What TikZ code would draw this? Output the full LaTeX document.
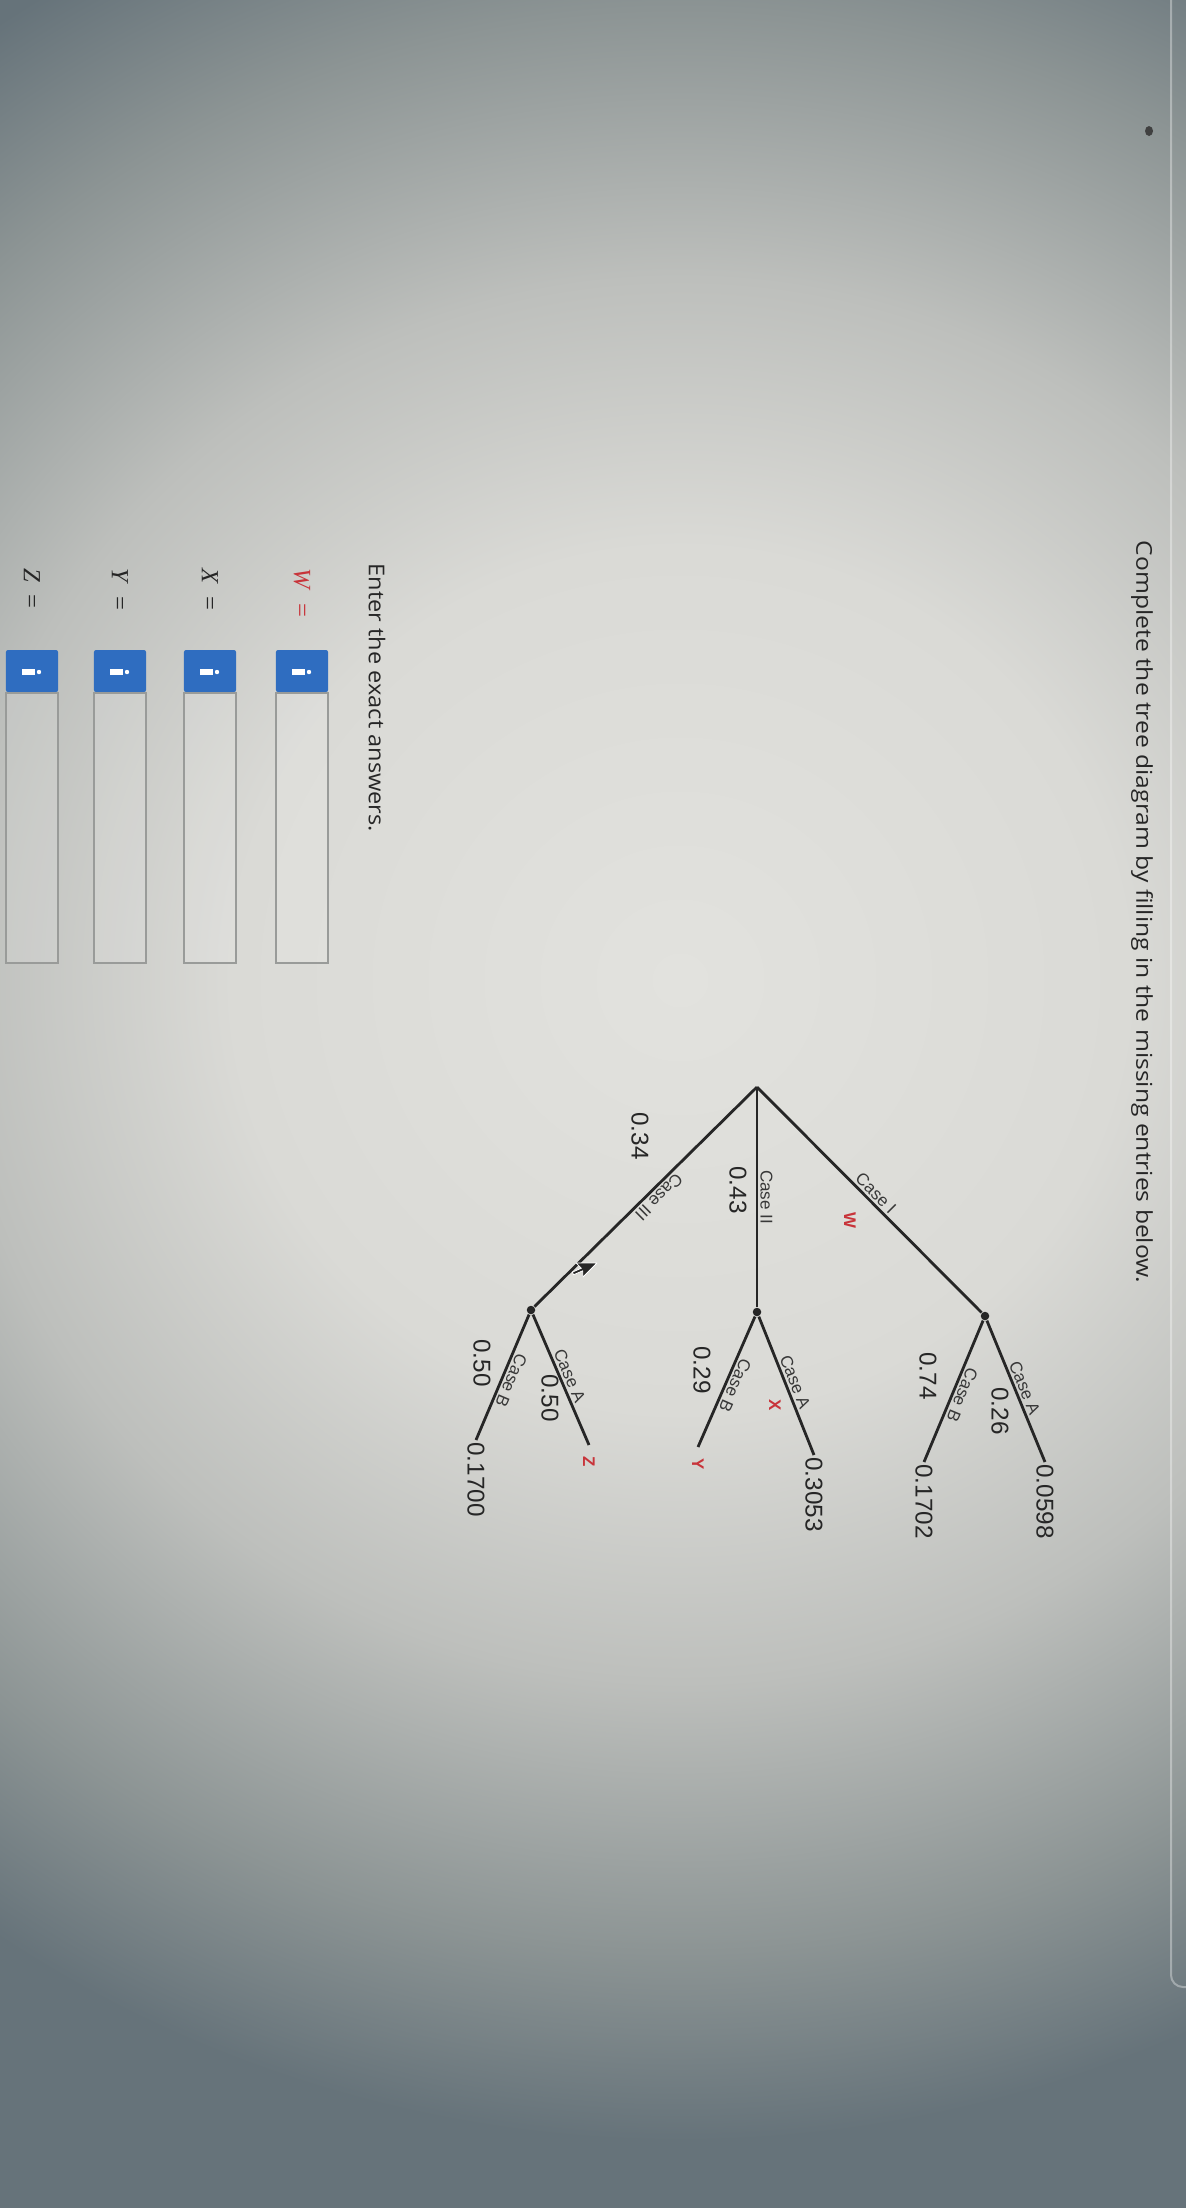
\documentclass[tikz,border=0pt]{standalone}
\usepackage{fontspec}
\setmainfont{Liberation Sans}
\newfontfamily\uifont{Open Sans}
\newfontfamily\serifmath{Liberation Serif}
\usetikzlibrary{calc}
\definecolor{ink}{HTML}{262626}
\definecolor{caseink}{HTML}{383838}
\definecolor{redmark}{HTML}{C8343A}
\definecolor{btnblue}{HTML}{2F6DC0}
\definecolor{fieldline}{HTML}{999B99}
\definecolor{bgA}{HTML}{E2E2DE}
\definecolor{bgB}{HTML}{DADAD6}
\definecolor{bgC}{HTML}{BDBFBC}
\definecolor{bgD}{HTML}{8C9494}
\definecolor{bgE}{HTML}{66737A}
\pgfdeclareradialshading{photobg}{\pgfpoint{0bp}{0bp}}{color(0bp)=(bgA); color(8bp)=(bgB); color(13bp)=(bgC); color(18bp)=(bgD); color(21.5bp)=(bgE); color(50bp)=(bgE)}

\tikzset{
  uitext/.style={font=\uifont\fontsize{6.2pt}{7pt}\selectfont, text=ink, inner sep=0pt},
  anslbl/.style={font=\serifmath\fontsize{7pt}{8pt}\selectfont, text=ink, inner sep=0pt},
  branch/.style={draw=ink, line width=0.028cm},
  knot/.style={circle, fill=ink, inner sep=0pt, minimum size=0.085cm},
  caselbl/.style={font=\fontsize{4.85pt}{5.5pt}\selectfont, text=caseink, inner sep=0.6pt},
  prob/.style={font=\fontsize{6.9pt}{8pt}\selectfont, text=ink, inner sep=0pt},
  redmarkst/.style={font=\bfseries\fontsize{4.8pt}{5.5pt}\selectfont, text=redmark, inner sep=0pt},
  leafnum/.style={font=\fontsize{6.9pt}{8pt}\selectfont, text=ink, inner sep=0.5pt, anchor=west},
  leafred/.style={redmarkst, inner sep=3pt, anchor=west},
  btnbox/.style={fill=btnblue, draw=none, rounded corners=0.02cm, minimum width=0.42cm, minimum height=0.52cm, inner sep=0pt},
  fieldbox/.style={draw=fieldline, fill=white, fill opacity=0.12, line width=0.015cm, minimum width=2.70cm, minimum height=0.52cm, inner sep=0pt},
}

\newcommand\answerrow[4]{%
  \node[anslbl, text=#4, anchor=west] (#1lbl) at (568,#2) {\textit{#3}\hspace{0.12cm}=};
  \node[btnbox] (#1btn) at (671,#2) {};
  \node[fieldbox, anchor=west] (#1field) at (692,#2) {};
  \fill[white] (669,#2-10) rectangle (675,#2+3);
  \fill[white] (672,#2+7) circle (2.2);
}

\begin{document}
\begin{tikzpicture}[x=0.01cm,y=0.01cm]
\useasboundingbox (0,0) rectangle (1186,-2208);
\begin{scope}
  \clip (0,0) rectangle (1186,-2208);
  \fill[bgE] (0,0) rectangle (1186,-2208);
  \shade[shading=photobg] (-720,370) rectangle (2080,-2330);
  \draw[white, opacity=0.35, line width=0.02cm] (1171,0) -- (1171,-1975) arc[start angle=180, end angle=270, radius=12] -- (1186,-1987);
  \fill[black!75] (1149,-131) ellipse [x radius=4, y radius=5];
\end{scope}

\begin{scope}[rotate=-90, transform shape]
  % texts
  \node[uitext, anchor=west, xscale=1.13] (title) at (540,1142) {Complete the tree diagram by filling in the missing entries below.};
  \node[uitext, anchor=west, xscale=1.08] (enter) at (563,377) {Enter the exact answers.};

  % answer rows
  \answerrow{w}{302}{W}{redmark}
  \answerrow{x}{210}{X}{ink}
  \answerrow{y}{120}{Y}{ink}
  \answerrow{z}{32}{Z}{ink}

  % tree nodes
  \coordinate (R) at (1087,757);
  \node[knot] (N1) at (1316,985) {};
  \node[knot] (N2) at (1312,757) {};
  \node[knot] (N3) at (1310,531) {};

  \node[leafnum] (L1A) at (1462,1045) {0.0598};
  \node[leafnum] (L1B) at (1462,924) {0.1702};
  \node[leafnum] (L2A) at (1455,814) {0.3053};
  \node[leafred] (L2B) at (1447,698) {Y};
  \node[leafred] (L3A) at (1445,589) {Z};
  \node[leafnum] (L3B) at (1440,476) {0.1700};

  % branches
  \draw[branch] (R) -- node[caselbl, sloped, above] (cI) {Case I} (N1);
  \draw[branch] (R) -- node[caselbl, above] (cII) {Case II} (N2);
  \draw[branch] (R) -- node[caselbl, sloped, above, pos=0.47] (cIII) {Case III} (N3);

  \draw[branch] (N1) -- node[caselbl, sloped, above] (c1a) {Case A} (L1A.west);
  \draw[branch] (N1) -- node[caselbl, sloped, above] (c1b) {Case B} (L1B.west);
  \draw[branch] (N2) -- node[caselbl, sloped, above] (c2a) {Case A} (L2A.west);
  \draw[branch] (N2) -- node[caselbl, sloped, above] (c2b) {Case B} (L2B.west);
  \draw[branch] (N3) -- node[caselbl, sloped, above] (c3a) {Case A} (L3A.west);
  \draw[branch] (N3) -- node[caselbl, sloped, above] (c3b) {Case B} (L3B.west);

  % probability labels
  \node[redmarkst] (pW) at (1220,850) {W};
  \node[prob] (p43) at (1190,738) {0.43};
  \node[prob] (p34) at (1136,640) {0.34};
  \node[prob] (p26) at (1411,1000) {0.26};
  \node[prob] (p74) at (1376,928) {0.74};
  \node[redmarkst] (pX) at (1405,775) {X};
  \node[prob] (p29) at (1370,702) {0.29};
  \node[prob] (p50a) at (1398,550) {0.50};
  \node[prob] (p50b) at (1363,482) {0.50};

  % mouse pointer
  \filldraw[fill=black!85, draw=white, line width=0.008cm, line join=round]
    (1263,597) -- (1263,576.2) -- (1268.2,581.4) -- (1272.1,572.3) -- (1274.7,573.6) -- (1270.8,582.7) -- (1277.3,582.7) -- cycle;
\end{scope}
\end{tikzpicture}
\end{document}
